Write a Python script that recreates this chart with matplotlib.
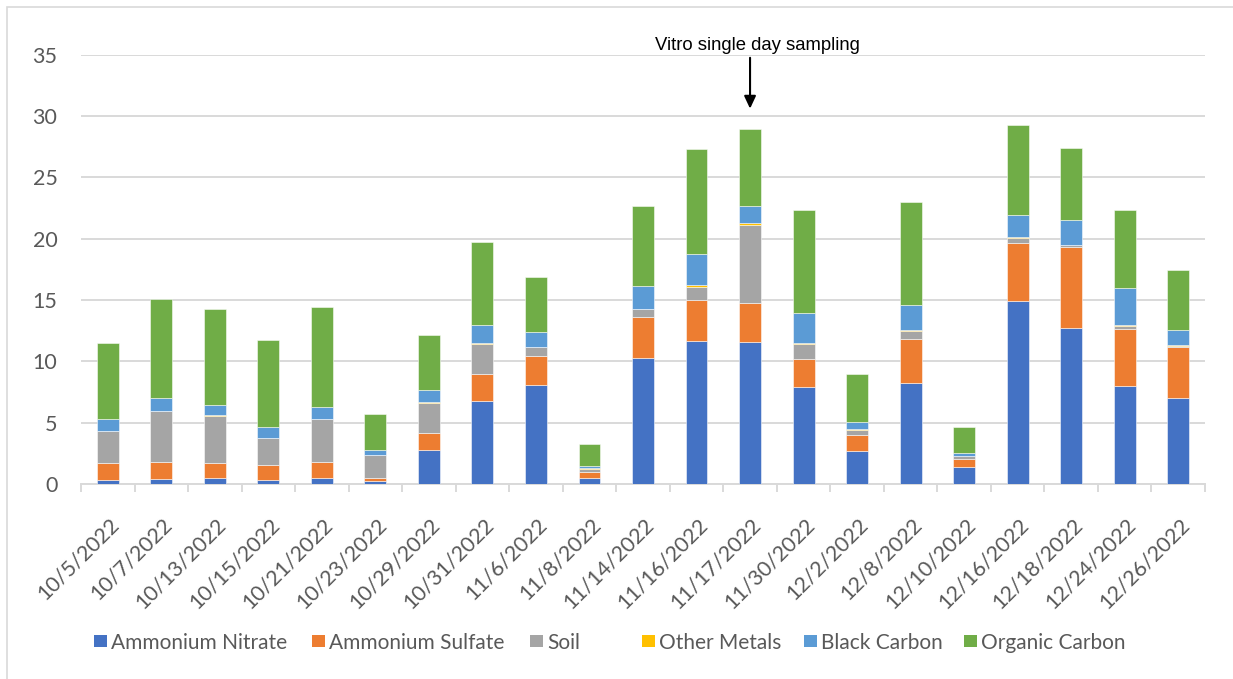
import matplotlib
matplotlib.use("Agg")
import matplotlib.pyplot as plt
import numpy as np
from matplotlib.patches import Rectangle
from matplotlib.transforms import ScaledTranslation

dates = ['10/5/2022', '10/7/2022', '10/13/2022', '10/15/2022', '10/21/2022',
         '10/23/2022', '10/29/2022', '10/31/2022', '11/6/2022', '11/8/2022',
         '11/14/2022', '11/16/2022', '11/17/2022', '11/30/2022', '12/2/2022',
         '12/8/2022', '12/10/2022', '12/16/2022', '12/18/2022', '12/24/2022',
         '12/26/2022']

ammonium_nitrate = [0.35, 0.43, 0.50, 0.35, 0.46, 0.27, 2.77, 6.79, 8.04, 0.52, 10.30,
                    11.65, 11.57, 7.90, 2.72, 8.26, 1.41, 14.91, 12.74, 8.01, 7.03]
ammonium_sulfate = [1.35, 1.34, 1.20, 1.22, 1.31, 0.22, 1.36, 2.15, 2.42, 0.43, 3.28,
                    3.35, 3.21, 2.31, 1.27, 3.53, 0.63, 4.71, 6.60, 4.65, 4.11]
soil = [2.60, 4.15, 3.84, 2.15, 3.50, 1.87, 2.47, 2.44, 0.71, 0.30, 0.66,
        1.08, 6.30, 1.22, 0.41, 0.65, 0.24, 0.40, 0.12, 0.22, 0.10]
other_metals = [0.05, 0.06, 0.05, 0.07, 0.07, 0.04, 0.05, 0.10, 0.03, 0.04, 0.04,
                0.15, 0.17, 0.05, 0.05, 0.08, 0.04, 0.08, 0.05, 0.05, 0.06]
black_carbon = [0.95, 1.05, 0.82, 0.83, 0.91, 0.35, 0.99, 1.45, 1.19, 0.15, 1.83,
                2.49, 1.38, 2.43, 0.63, 2.09, 0.21, 1.85, 1.98, 3.07, 1.25]
organic_carbon = [6.20, 8.04, 7.89, 7.08, 8.18, 2.93, 4.50, 6.79, 4.51, 1.80, 6.55,
                  8.58, 6.30, 8.39, 3.88, 8.35, 2.12, 7.28, 5.92, 6.33, 4.87]

series_names = ['Ammonium Nitrate', 'Ammonium Sulfate', 'Soil', 'Other Metals',
                'Black Carbon', 'Organic Carbon']
series_colors = ['#4472C4', '#ED7D31', '#A5A5A5', '#FFC000', '#5B9BD5', '#70AD47']

annotation_text = 'Vitro single day sampling'
annotated_date = '11/17/2022'

W, H = 1233, 679
fig = plt.figure(figsize=(W / 100, H / 100), dpi=100)
fig.patch.set_facecolor('white')

# plot area in pixel terms
left, right, bottom, top = 81, 1205, 484, 54.7
ax = fig.add_axes([left / W, 1 - bottom / H, (right - left) / W, (bottom - top) / H])

TEXT = '#595959'
GRID = '#D9D9D9'
FONT = 'Lato'

x = np.arange(len(dates))
data = [ammonium_nitrate, ammonium_sulfate, soil, other_metals, black_carbon, organic_carbon]
base = np.zeros(len(dates))
for vals, name, col in zip(data, series_names, series_colors):
    vals = np.asarray(vals)
    ax.bar(x, vals, width=0.41, bottom=base, color=col, edgecolor=(1, 1, 1, 0.6),
           linewidth=0.6, label=name, zorder=3)
    base = base + vals

ax.set_xlim(-0.5, len(dates) - 0.5)
ax.set_ylim(0, 35)
ax.set_yticks(np.arange(0, 36, 5))
ax.yaxis.grid(True, color=GRID, linewidth=1.4, zorder=0)
ax.set_axisbelow(True)
for s in ['top', 'right', 'left']:
    ax.spines[s].set_visible(False)
ax.spines['bottom'].set_color(GRID)
ax.spines['bottom'].set_linewidth(1.4)

ax.tick_params(axis='y', length=0, pad=17, labelsize=15.5, labelcolor=TEXT)
for lab in ax.get_yticklabels():
    lab.set_fontfamily(FONT)

# category labels centred on bars, boundary ticks between categories
ax.set_xticks(x)
ax.set_xticklabels(dates, rotation=45, ha='right', va='center', rotation_mode='anchor',
                   fontsize=15.5, color=TEXT, fontfamily=FONT)
ax.tick_params(axis='x', which='major', length=0, pad=27)
ax.set_xticks(np.arange(-0.5, len(dates), 1.0), minor=True)
ax.tick_params(axis='x', which='minor', length=6, width=1.4, color=GRID)
offset = ScaledTranslation(8 / 100, 0, fig.dpi_scale_trans)
for lab in ax.get_xticklabels():
    lab.set_transform(lab.get_transform() + offset)

# annotation arrow over the highlighted sampling day
idx = dates.index(annotated_date)
ax.annotate('', xy=(idx, 30.6), xytext=(idx, 34.75),
            arrowprops=dict(arrowstyle='-|>,head_length=0.75,head_width=0.35',
                            color='black', lw=1.5, shrinkA=0, shrinkB=0),
            annotation_clip=False, zorder=5)
ax.text(idx + 0.13, 35.75, annotation_text, ha='center', va='center', fontsize=13.3,
        fontfamily='Liberation Sans', color='black', clip_on=False)

# legend row below the category labels (square swatch + label per series)
legend_x = [94, 312, 530, 642, 804, 964]   # left edge of each swatch, pixels
legend_y = 641
sw = 12.5
for lx, name, col in zip(legend_x, series_names, series_colors):
    fig.add_artist(Rectangle((lx / W, 1 - (legend_y + sw / 2) / H), sw / W, sw / H,
                             transform=fig.transFigure, facecolor=col, edgecolor='none'))
    fig.text((lx + sw + 4.5) / W, 1 - legend_y / H, name, ha='left', va='center_baseline',
             fontsize=15, color=TEXT, fontfamily=FONT)

# chart-area border
fig.add_artist(Rectangle((7 / W, -0.1), 1.2, 1.1 - 7 / H, transform=fig.transFigure,
                         fill=False, edgecolor=GRID, linewidth=1.2, clip_on=False))

fig.savefig('out.png', dpi=100, facecolor='white')
